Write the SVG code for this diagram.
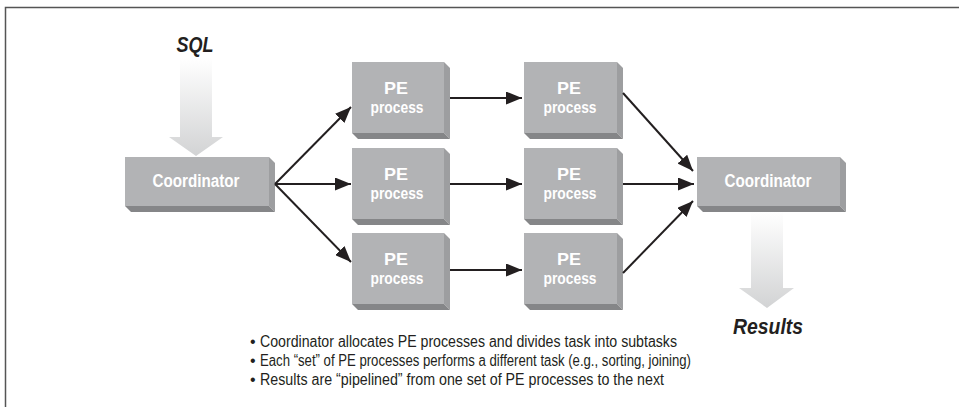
<svg xmlns="http://www.w3.org/2000/svg" width="959" height="407" viewBox="0 0 959 407">
<defs>
<style>
.front{fill:#b2b3b5}
.side{fill:#9d9ea0}
.bot{fill:#858688}
.lbl{font-family:"Liberation Sans",Arial,sans-serif;font-weight:bold;font-size:18px;fill:#ffffff;text-anchor:middle}
.pe{font-size:17px}
.big{font-family:"Liberation Sans",Arial,sans-serif;font-weight:bold;font-style:italic;font-size:22px;fill:#231f20;text-anchor:middle}
.note{font-family:"Liberation Sans",Arial,sans-serif;font-size:16px;fill:#231f20}
.conn{stroke:#231f20;stroke-width:2;fill:none;marker-end:url(#ah)}
</style>
<marker id="ah" markerUnits="userSpaceOnUse" markerWidth="16" markerHeight="13" refX="16" refY="6.5" orient="auto">
<path d="M0,0 L16,6.5 L0,13 z" fill="#231f20"/>
</marker>
<linearGradient id="fade" x1="0" y1="0" x2="0" y2="1">
<stop offset="0" stop-color="#ffffff"/>
<stop offset="1" stop-color="#d2d3d4"/>
</linearGradient>
</defs>
<rect width="959" height="407" fill="#ffffff"/>
<path d="M5.5,407 V7.5 H959" fill="none" stroke="#555555" stroke-width="1.5"/>

<g id="sql">
<polygon points="180,58 212,58 212,137 223,137 196,156 169,137 180,137" fill="url(#fade)"/>
<text class="big" x="195" y="52" textLength="37" lengthAdjust="spacingAndGlyphs">SQL</text>
</g>

<g id="coord1">
<rect class="front" x="125" y="157" width="144" height="49"/>
<polygon class="side" points="269,157 275,163 275,212 269,206"/>
<polygon class="bot" points="125,206 269,206 275,212 131,212"/>
<text class="lbl" x="196" y="187" textLength="87" lengthAdjust="spacingAndGlyphs">Coordinator</text>
</g>

<g id="pe11">
<rect class="front" x="352" y="62" width="92" height="71"/>
<polygon class="side" points="444,62 450,68 450,139 444,133"/>
<polygon class="bot" points="352,133 444,133 450,139 358,139"/>
<text class="lbl pe" x="396" y="94" textLength="24" lengthAdjust="spacingAndGlyphs">PE</text>
<text class="lbl pe" x="397" y="113" textLength="53" lengthAdjust="spacingAndGlyphs">process</text>
</g>
<g id="pe12">
<rect class="front" x="352" y="148" width="92" height="71"/>
<polygon class="side" points="444,148 450,154 450,225 444,219"/>
<polygon class="bot" points="352,219 444,219 450,225 358,225"/>
<text class="lbl pe" x="396" y="180" textLength="24" lengthAdjust="spacingAndGlyphs">PE</text>
<text class="lbl pe" x="397" y="199" textLength="53" lengthAdjust="spacingAndGlyphs">process</text>
</g>
<g id="pe13">
<rect class="front" x="352" y="233" width="92" height="71"/>
<polygon class="side" points="444,233 450,239 450,310 444,304"/>
<polygon class="bot" points="352,304 444,304 450,310 358,310"/>
<text class="lbl pe" x="396" y="265" textLength="24" lengthAdjust="spacingAndGlyphs">PE</text>
<text class="lbl pe" x="397" y="284" textLength="53" lengthAdjust="spacingAndGlyphs">process</text>
</g>

<g id="pe21">
<rect class="front" x="524" y="62" width="93" height="71"/>
<polygon class="side" points="617,62 623,68 623,139 617,133"/>
<polygon class="bot" points="524,133 617,133 623,139 530,139"/>
<text class="lbl pe" x="569" y="94" textLength="24" lengthAdjust="spacingAndGlyphs">PE</text>
<text class="lbl pe" x="570" y="113" textLength="53" lengthAdjust="spacingAndGlyphs">process</text>
</g>
<g id="pe22">
<rect class="front" x="524" y="148" width="93" height="71"/>
<polygon class="side" points="617,148 623,154 623,225 617,219"/>
<polygon class="bot" points="524,219 617,219 623,225 530,225"/>
<text class="lbl pe" x="569" y="180" textLength="24" lengthAdjust="spacingAndGlyphs">PE</text>
<text class="lbl pe" x="570" y="199" textLength="53" lengthAdjust="spacingAndGlyphs">process</text>
</g>
<g id="pe23">
<rect class="front" x="524" y="233" width="93" height="71"/>
<polygon class="side" points="617,233 623,239 623,310 617,304"/>
<polygon class="bot" points="524,304 617,304 623,310 530,310"/>
<text class="lbl pe" x="569" y="265" textLength="24" lengthAdjust="spacingAndGlyphs">PE</text>
<text class="lbl pe" x="570" y="284" textLength="53" lengthAdjust="spacingAndGlyphs">process</text>
</g>

<g id="coord2">
<rect class="front" x="697" y="157" width="143" height="49"/>
<polygon class="side" points="840,157 846,163 846,212 840,206"/>
<polygon class="bot" points="697,206 840,206 846,212 703,212"/>
<text class="lbl" x="768" y="187" textLength="87" lengthAdjust="spacingAndGlyphs">Coordinator</text>
</g>

<g id="results">
<polygon points="751,212 783,212 783,288 794,288 767,308 739,288 751,288" fill="url(#fade)"/>
<text class="big" x="768" y="334" textLength="70" lengthAdjust="spacingAndGlyphs">Results</text>
</g>

<g id="connectors">
<line class="conn" x1="275" y1="184" x2="351" y2="107"/>
<line class="conn" x1="275" y1="184" x2="351" y2="184"/>
<line class="conn" x1="275" y1="184" x2="351" y2="262"/>
<line class="conn" x1="450" y1="98" x2="522" y2="98"/>
<line class="conn" x1="450" y1="184" x2="522" y2="184"/>
<line class="conn" x1="450" y1="270" x2="522" y2="270"/>
<line class="conn" x1="623" y1="93" x2="693" y2="171"/>
<line class="conn" x1="623" y1="184" x2="694" y2="184"/>
<line class="conn" x1="623" y1="273" x2="693" y2="201"/>
</g>

<g id="notes">
<text class="note" x="250" y="347">•</text>
<text class="note" x="260" y="347" textLength="417" lengthAdjust="spacingAndGlyphs">Coordinator allocates PE processes and divides task into subtasks</text>
<text class="note" x="250" y="366">•</text>
<text class="note" x="260" y="366" textLength="431" lengthAdjust="spacingAndGlyphs">Each “set” of PE processes performs a different task (e.g., sorting, joining)</text>
<text class="note" x="250" y="385">•</text>
<text class="note" x="260" y="385" textLength="404" lengthAdjust="spacingAndGlyphs">Results are “pipelined” from one set of PE processes to the next</text>
</g>
</svg>
